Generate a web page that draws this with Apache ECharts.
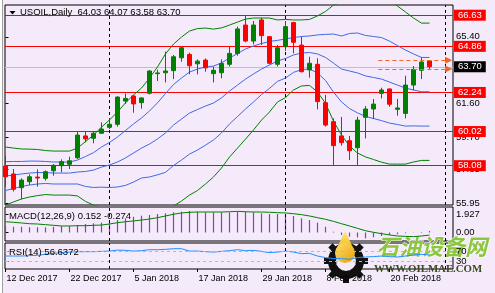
<!DOCTYPE html>
<html><head><meta charset="utf-8">
<script src="https://cdn.jsdelivr.net/npm/echarts@6/dist/echarts.min.js"></script>
<style>html,body{margin:0;padding:0;background:#F4EAF9;}#c{width:495px;height:293px;}</style>
</head><body><div id="c"></div>
<script>
// ---------- data ----------
const dates = ['12 Dec 2017','13 Dec 2017','14 Dec 2017','15 Dec 2017','18 Dec 2017','19 Dec 2017','20 Dec 2017','21 Dec 2017','22 Dec 2017','26 Dec 2017','27 Dec 2017','28 Dec 2017','29 Dec 2017','2 Jan 2018','3 Jan 2018','4 Jan 2018','5 Jan 2018','8 Jan 2018','9 Jan 2018','10 Jan 2018','11 Jan 2018','12 Jan 2018','15 Jan 2018','16 Jan 2018','17 Jan 2018','18 Jan 2018','19 Jan 2018','22 Jan 2018','23 Jan 2018','24 Jan 2018','25 Jan 2018','26 Jan 2018','29 Jan 2018','30 Jan 2018','31 Jan 2018','1 Feb 2018','2 Feb 2018','5 Feb 2018','6 Feb 2018','7 Feb 2018','8 Feb 2018','9 Feb 2018','12 Feb 2018','13 Feb 2018','14 Feb 2018','15 Feb 2018','16 Feb 2018','19 Feb 2018','20 Feb 2018','21 Feb 2018','22 Feb 2018','23 Feb 2018','26 Feb 2018','27 Feb 2018'];
const opens  = [58.06,57.61,56.83,57.17,57.43,57.36,57.79,58.08,58.16,58.53,59.77,59.64,59.92,60.26,60.43,61.75,62.04,61.66,62.19,63.31,63.36,63.48,64.21,64.40,63.87,64.08,63.31,63.36,63.84,64.46,66.07,65.16,66.36,65.41,63.84,64.84,66.21,64.93,63.52,63.84,61.66,60.58,59.77,59.50,59.10,60.83,61.30,62.19,62.44,61.28,61.05,62.66,63.50,64.03];
const highs  = [58.65,57.89,57.36,57.59,57.87,57.81,58.17,58.44,58.59,60.05,60.01,60.05,60.54,60.77,62.02,62.18,62.08,61.96,63.50,63.53,64.56,64.37,64.84,64.50,64.12,64.17,63.71,64.12,64.84,65.98,66.64,66.30,66.49,65.45,64.93,66.30,66.26,65.41,64.27,64.18,62.10,60.77,60.85,59.77,60.86,61.47,61.87,62.51,62.47,61.87,63.19,63.74,64.24,64.07];
const lows   = [56.88,56.61,56.17,56.98,56.89,57.23,57.51,57.70,57.89,58.46,59.41,59.35,59.88,60.16,60.30,61.59,61.09,61.32,62.13,62.89,62.81,63.00,63.99,63.27,63.27,63.42,62.81,63.04,63.71,64.33,65.09,64.97,64.94,63.84,63.71,64.60,64.46,63.38,63.08,61.28,60.30,58.12,59.22,58.40,58.12,59.63,60.73,61.90,61.43,60.92,60.77,62.36,63.00,63.58];
const closes = [57.45,56.74,57.26,57.45,57.38,57.74,58.10,58.31,58.36,59.82,59.60,59.92,60.16,60.43,61.98,61.90,61.59,61.93,63.46,63.35,63.46,64.27,64.78,63.76,64.02,63.64,63.50,63.89,64.46,65.85,65.16,66.07,65.47,63.90,64.78,65.98,65.09,63.42,63.90,61.72,60.39,59.22,59.39,58.93,60.67,61.30,61.58,62.38,61.57,61.36,62.66,63.55,63.97,63.70];

const bbUp2 = [59.14,59.08,59.03,59.02,59.00,58.94,58.91,58.91,58.91,59.08,59.45,59.82,60.27,60.68,61.13,61.65,62.10,62.49,63.06,63.69,64.43,64.99,65.39,65.73,65.87,65.90,65.84,65.91,66.07,66.24,66.41,66.47,66.47,66.47,66.36,66.39,66.36,66.36,66.39,66.59,66.84,67.21,67.32,67.72,67.90,67.78,67.75,67.72,67.49,67.15,66.81,66.47,66.18,66.18];
const bbUp1 = [58.31,58.32,58.32,58.34,58.34,58.32,58.29,58.29,58.29,58.40,58.60,58.82,59.14,59.40,59.71,60.08,60.45,60.79,61.19,61.65,62.18,62.69,63.06,63.40,63.57,63.69,63.74,63.92,64.20,64.45,64.71,64.88,65.02,65.14,65.20,65.28,65.36,65.42,65.45,65.51,65.54,65.56,65.45,65.59,65.62,65.48,65.42,65.36,65.16,64.90,64.65,64.43,64.23,64.23];
const bbMid = [57.49,57.55,57.61,57.66,57.69,57.69,57.66,57.66,57.66,57.72,57.75,57.83,58.00,58.12,58.29,58.52,58.80,59.08,59.31,59.60,59.94,60.39,60.73,61.07,61.27,61.47,61.64,61.93,62.32,62.66,63.00,63.29,63.57,63.80,64.03,64.17,64.37,64.48,64.51,64.43,64.23,63.91,63.57,63.46,63.35,63.18,63.09,63.00,62.83,62.66,62.49,62.38,62.28,62.28];
const bbLo1 = [56.67,56.78,56.90,56.98,57.04,57.07,57.04,57.04,57.04,57.04,56.90,56.84,56.86,56.84,56.87,56.96,57.15,57.38,57.44,57.56,57.70,58.09,58.40,58.74,58.97,59.25,59.54,59.94,60.45,60.87,61.30,61.70,62.12,62.47,62.87,63.06,63.38,63.54,63.57,63.35,62.92,62.26,61.70,61.33,61.08,60.88,60.76,60.64,60.50,60.42,60.33,60.34,60.33,60.33];
const bbLo2 = [55.84,56.02,56.19,56.30,56.38,56.44,56.41,56.41,56.41,56.36,56.05,55.84,55.73,55.56,55.45,55.39,55.50,55.67,55.56,55.51,55.45,55.79,56.07,56.41,56.67,57.04,57.44,57.95,58.57,59.08,59.59,60.11,60.67,61.13,61.70,61.95,62.38,62.61,62.64,62.27,61.62,60.61,59.82,59.20,58.80,58.58,58.43,58.28,58.17,58.17,58.17,58.29,58.38,58.38];

const macdHist = [0.69,0.61,0.61,0.55,0.55,0.55,0.61,0.69,0.69,0.79,0.90,0.97,1.04,1.14,1.32,1.50,1.67,1.78,1.85,1.96,2.03,2.14,2.20,2.28,2.20,2.14,2.14,2.14,2.14,2.20,2.20,2.14,2.03,1.96,1.96,1.85,1.75,1.50,1.32,1.04,0.61,0.08,-0.26,-0.44,-0.51,-0.62,-0.51,-0.37,-0.26,-0.19,-0.08,-0.02,0.05,0.152];
const macdSignal = [1.14,1.08,1.01,0.93,0.90,0.83,0.76,0.69,0.69,0.72,0.72,0.76,0.79,0.90,1.04,1.14,1.22,1.32,1.43,1.57,1.75,1.93,2.07,2.14,2.17,2.17,2.17,2.17,2.20,2.24,2.20,2.17,2.17,2.14,2.10,2.07,1.99,1.89,1.75,1.57,1.40,1.18,0.93,0.69,0.44,0.19,0.02,-0.12,-0.26,-0.37,-0.41,-0.44,-0.37,-0.274];
const rsi14 = [52.4,52.4,52.4,54,55.2,59.2,63.2,66,68.4,70,70,70,71.2,72.4,76.4,75.2,72.4,74,78,78,79.2,82,82,72.4,72.4,70,68.4,71.2,74,78,74,75.2,71.2,66,68.4,72.4,68.4,62,63.2,52.4,46,42,42,39.2,46,48.4,50,52.4,50,48.4,52.4,56.4,59.2,56.64];

const redLevels = [66.63, 64.86, 62.24, 60.02, 58.08];
const lastPrice = 63.70;
const priceTicks = [65.40, 61.60, 59.70, 57.85, 55.95];
const macdTicks = [1.927, 0, -0.095];
const macdTickLabels = ['1.927', '0.00', '-0.095'];
const rsiTicks = [100, 70, 30, 0];
const rsiLevels = [70, 30];
const dateTicks = [0, 8, 16, 24, 32, 40, 48];
const monthSeparators = [13, 35, 55];

// ---------- chart ----------
const FONT = 'Liberation Sans';
const BG = '#F4EAF9';
const last = dates.length - 1;
const xMin = -0.0625, xMax = 55.9375;
const pts = arr => arr.map((v, i) => [i, v]);

function xAxisCfg(k, labels) {
  return {
    type: 'value', gridIndex: k, min: xMin, max: xMax,
    axisLine: {show: false}, splitLine: {show: false},
    axisTick: labels ? {show: true, customValues: dateTicks, length: 3, lineStyle: {color: '#000'}} : {show: false},
    axisLabel: labels ? {show: true, customValues: dateTicks, formatter: v => dates[Math.round(v)] || '',
      align: 'left', margin: 5, fontSize: 9, fontFamily: FONT, color: '#000', padding: [0, 0, 0, 1]} : {show: false}
  };
}
function yAxisCfg(k, min, max, ticks, fmt) {
  return {
    type: 'value', gridIndex: k, position: 'right', min: min, max: max,
    axisLine: {show: false}, splitLine: {show: false},
    axisTick: {show: true, customValues: ticks, length: 3, lineStyle: {color: '#000'}},
    axisLabel: {show: true, customValues: ticks, formatter: fmt, margin: 3, fontSize: 9.5, fontFamily: FONT, color: '#000'}
  };
}
const boxLabel = (bg) => ({show: true, position: 'end', distance: 1, formatter: p => Number(p.value).toFixed(2),
  backgroundColor: bg, color: '#fff', padding: [1, 4, 0, 4], fontSize: 9.5, lineHeight: 10, fontFamily: FONT});
const sepLines = monthSeparators.map(i => ({xAxis: i, lineStyle: {color: '#000', type: [3, 3], width: 1}, label: {show: false}}));
const line = (name, data, color, xi) => ({type: 'line', name, xAxisIndex: xi, yAxisIndex: xi, data: pts(data),
  showSymbol: false, symbol: 'none', lineStyle: {color, width: 1}, itemStyle: {color}, silent: true, z: 3});

const option = {
  animation: false,
  backgroundColor: BG,
  grid: [
    {left: 5, top: 5, width: 448, height: 200, show: true, borderColor: '#000', borderWidth: 1, backgroundColor: 'transparent'},
    {left: 5, top: 207, width: 448, height: 34, show: true, borderColor: '#000', borderWidth: 1, backgroundColor: 'transparent'},
    {left: 5, top: 243, width: 448, height: 26, show: true, borderColor: '#000', borderWidth: 1, backgroundColor: 'transparent'}
  ],
  xAxis: [xAxisCfg(0, false), xAxisCfg(1, false), xAxisCfg(2, true)],
  yAxis: [
    yAxisCfg(0, 55.846, 67.2095, priceTicks, v => v.toFixed(2)),
    yAxisCfg(1, -0.9, 2.7, macdTicks, v => {
      let best = 0; macdTicks.forEach((t, j) => { if (Math.abs(t - v) < Math.abs(macdTicks[best] - v)) best = j; });
      return macdTickLabels[best];
    }),
    yAxisCfg(2, 0, 105, rsiTicks, v => String(v))
  ],
  series: [
    {
      type: 'candlestick', xAxisIndex: 0, yAxisIndex: 0, clip: true, barWidth: 5, silent: true, z: 4,
      data: dates.map((d, i) => [i, opens[i], closes[i], lows[i], highs[i]]),
      itemStyle: {color: '#008000', color0: '#FF0000', borderColor: '#008000', borderColor0: '#FF0000', borderWidth: 1},
      markLine: {
        silent: true, symbol: ['none', 'none'], animation: false, z: 2,
        data: redLevels.map(v => ({yAxis: v, lineStyle: {color: '#FF0000', type: 'solid', width: 1}, label: boxLabel('#FF0000')}))
          .concat([{yAxis: lastPrice, lineStyle: {color: '#C0C0C0', type: 'solid', width: 1}, label: boxLabel('#000000')}])
          .concat(sepLines)
      }
    },
    line('bbUp2', bbUp2, '#008000', 0),
    line('bbUp1', bbUp1, '#4169E1', 0),
    line('bbMid', bbMid, '#4169E1', 0),
    line('bbLo1', bbLo1, '#4169E1', 0),
    Object.assign(line('bbLo2', bbLo2, '#008000', 0), {
      markLine: {
        silent: true, animation: false, symbol: ['none', 'triangle'], symbolSize: 7,
        lineStyle: {color: '#F26522', type: [4, 3], width: 1}, label: {show: false},
        data: [
          [{coord: [46.6, highs[last]]}, {coord: [55.4, highs[last]]}],
          [{coord: [46.6, lows[last]]}, {coord: [55.4, lows[last]]}]
        ]
      }
    }),
    {
      type: 'bar', xAxisIndex: 1, yAxisIndex: 1, data: pts(macdHist), barWidth: 1.2, silent: true,
      itemStyle: {color: '#9932CC'},
      markLine: {silent: true, symbol: ['none', 'none'], animation: false, data: sepLines}
    },
    line('macdSignal', macdSignal, '#008000', 1),
    Object.assign(line('rsi', rsi14, '#1E90FF', 2), {
      markLine: {silent: true, symbol: ['none', 'none'], animation: false,
        data: rsiLevels.map(v => ({yAxis: v, lineStyle: {color: '#B8B8B8', type: [3, 3], width: 1}, label: {show: false}})).concat(sepLines)}
    })
  ],
  graphic: [
    {type: 'rect', left: 0, top: 0, shape: {width: 2, height: 293}, style: {fill: '#FFFFFF'}, silent: true, z: 50},
    {type: 'line', shape: {x1: 2.5, y1: 0, x2: 2.5, y2: 293}, style: {stroke: '#A0A0A0', lineWidth: 1}, silent: true, z: 50},
    {type: 'polygon', shape: {points: [[9.5, 11], [15.5, 11], [12.5, 14.5]]}, style: {fill: '#000'}, silent: true, z: 50},
    {type: 'text', x: 20, y: 7, silent: true, z: 50, style: {
      text: 'USOIL,Daily  ' + [opens[last], highs[last], lows[last], closes[last]].map(v => v.toFixed(2)).join(' '),
      font: '9.5px "Liberation Sans"', fill: '#000'}},
    {type: 'text', x: 9, y: 211, silent: true, z: 50, style: {
      text: 'MACD(12,26,9) ' + macdHist[last].toFixed(3) + ' ' + macdSignal[last].toFixed(3),
      font: '9.5px "Liberation Sans"', fill: '#000'}},
    {type: 'text', x: 9, y: 247, silent: true, z: 50, style: {
      text: 'RSI(14) 56.6372', font: '9.5px "Liberation Sans"', fill: '#000'}},
    // watermark
    {type: 'group', silent: true, z: 100, children: [
      {type: 'rect', x: 346, y: 261, rotation: 0, shape: {x: -3, y: -22, width: 6, height: 44}, style: {fill: '#111'}},
      {type: 'rect', x: 346, y: 261, rotation: Math.PI / 4, shape: {x: -3, y: -22, width: 6, height: 44}, style: {fill: '#111'}},
      {type: 'rect', x: 346, y: 261, rotation: Math.PI / 2, shape: {x: -3, y: -22, width: 6, height: 44}, style: {fill: '#111'}},
      {type: 'rect', x: 346, y: 261, rotation: 3 * Math.PI / 4, shape: {x: -3, y: -22, width: 6, height: 44}, style: {fill: '#111'}},
      {type: 'ring', shape: {cx: 346, cy: 261, r: 18, r0: 10}, style: {fill: '#111'}},
      {type: 'circle', shape: {cx: 346, cy: 261, r: 10}, style: {fill: BG}},
      {type: 'polygon', shape: {points: [[345, 231], [335.8, 250], [354.2, 250]]},
        style: {fill: {type: 'linear', x: 0, y: 0, x2: 0, y2: 1, colorStops: [{offset: 0, color: '#FFE98A'}, {offset: 1, color: '#F5B800'}]}}},
      {type: 'circle', shape: {cx: 345, cy: 253, r: 10},
        style: {fill: {type: 'linear', x: 0, y: 0, x2: 1, y2: 1, colorStops: [{offset: 0, color: '#FFE070'}, {offset: 1, color: '#E89E00'}]}}},
      {type: 'text', x: 377, y: 236, style: {text: '石油设备网', font: 'italic bold 22px "Noto Sans CJK SC"', fill: '#8CC63E', stroke: '#FFFFFF', lineWidth: 1}},
      {type: 'text', x: 374, y: 264, style: {text: 'WWW.OILMAE.COM', font: 'bold 10.8px "Liberation Serif"', fill: '#3B4A22'}}
    ]}
  ]
};
const chart = echarts.init(document.getElementById('c'), null, {renderer: 'canvas', width: 495, height: 293});
chart.setOption(option);
</script>
</body></html>
